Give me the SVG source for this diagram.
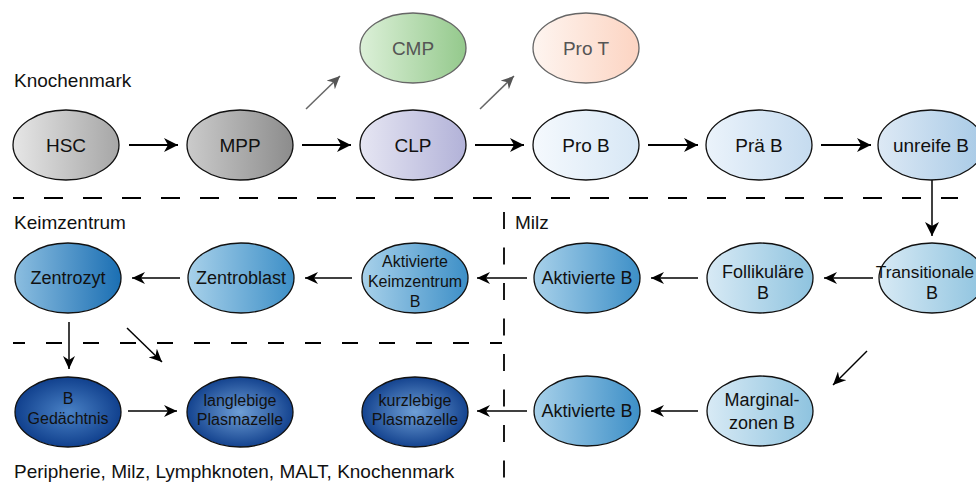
<svg xmlns="http://www.w3.org/2000/svg" width="976" height="483" viewBox="0 0 976 483">
<style>
  .lbl{font-family:"Liberation Sans",Arial,sans-serif;font-size:19px;fill:#111}
  .t{font-family:"Liberation Sans",Arial,sans-serif;text-anchor:middle;fill:#111}
  .t19{font-size:19px}
  .t18{font-size:18px}
  .t16{font-size:16px}
  .gt{fill:#555}
  .node{stroke:#111;stroke-width:1.3}
  .gnode{stroke:#666;stroke-width:1.3}
  .arr{stroke:#000;stroke-width:2;fill:none}
  .arr2{stroke:#000;stroke-width:1.5;fill:none}
  .garr{stroke:#666;stroke-width:1.5;fill:none}
  .dash{stroke:#000;stroke-width:1.8;fill:none}
</style>
<defs>
  <marker id="ah" markerUnits="userSpaceOnUse" markerWidth="15" markerHeight="14" refX="14" refY="7" orient="auto">
    <path d="M0,0 L14,7 L0,14 L4,7 z" fill="#000"/>
  </marker>
  <marker id="ahs" markerUnits="userSpaceOnUse" markerWidth="14" markerHeight="12" refX="13" refY="6" orient="auto">
    <path d="M0,0 L13,6 L0,12 L4,6 z" fill="#000"/>
  </marker>
  <marker id="gah" markerUnits="userSpaceOnUse" markerWidth="14" markerHeight="12" refX="13" refY="6" orient="auto">
    <path d="M0,0 L13,6 L0,12 L4,6 z" fill="#555"/>
  </marker>
  <linearGradient id="gHSC"><stop offset="0" stop-color="#e6e6e6"/><stop offset="1" stop-color="#a6a6a6"/></linearGradient>
  <linearGradient id="gMPP"><stop offset="0" stop-color="#cbcbcb"/><stop offset="1" stop-color="#8c8c8c"/></linearGradient>
  <linearGradient id="gCLP"><stop offset="0" stop-color="#e6e6f3"/><stop offset="1" stop-color="#b2b2d8"/></linearGradient>
  <linearGradient id="gCMP"><stop offset="0" stop-color="#dcf0d8"/><stop offset="1" stop-color="#94c98c"/></linearGradient>
  <linearGradient id="gProT"><stop offset="0" stop-color="#fef5f0"/><stop offset="1" stop-color="#fcd4c2"/></linearGradient>
  <linearGradient id="gProB"><stop offset="0" stop-color="#f5f9fd"/><stop offset="1" stop-color="#d7e7f5"/></linearGradient>
  <linearGradient id="gPraB"><stop offset="0" stop-color="#ebf3fb"/><stop offset="1" stop-color="#c5dbef"/></linearGradient>
  <linearGradient id="gUnr"><stop offset="0" stop-color="#dde9f5"/><stop offset="1" stop-color="#a8cae6"/></linearGradient>
  <linearGradient id="gLight"><stop offset="0" stop-color="#d8eaf5"/><stop offset="1" stop-color="#8ec3df"/></linearGradient>
  <linearGradient id="gMid"><stop offset="0" stop-color="#a8d1ea"/><stop offset="1" stop-color="#3d8fc7"/></linearGradient>
  <linearGradient id="gZz"><stop offset="0" stop-color="#8cbee0"/><stop offset="1" stop-color="#1b6fb3"/></linearGradient>
  <radialGradient id="gDark" cx="0.5" cy="0.5" r="0.55"><stop offset="0" stop-color="#6f9fd6"/><stop offset="1" stop-color="#0b3a88"/></radialGradient>
  <radialGradient id="gGed" cx="0.5" cy="0.5" r="0.55"><stop offset="0" stop-color="#4a82c6"/><stop offset="1" stop-color="#0b3a88"/></radialGradient>
</defs>

<g id="labels">
  <text class="lbl" x="14" y="87">Knochenmark</text>
  <text class="lbl" x="14" y="229">Keimzentrum</text>
  <text class="lbl" x="515" y="229">Milz</text>
  <text class="lbl" x="14" y="478">Peripherie, Milz, Lymphknoten, MALT, Knochenmark</text>
</g>

<g id="dividers">
  <line class="dash" x1="13" y1="198" x2="958" y2="198" stroke-dasharray="19 20" stroke-dashoffset="8"/>
  <line class="dash" x1="13" y1="343" x2="502" y2="343" stroke-dasharray="16 21" stroke-dashoffset="4"/>
  <line class="dash" x1="504" y1="212" x2="504" y2="483" stroke-dasharray="17 18.5"/>
</g>

<g id="connectors">
  <line class="arr" x1="129" y1="145" x2="178" y2="145" marker-end="url(#ah)"/>
  <line class="arr" x1="302" y1="145" x2="351" y2="145" marker-end="url(#ah)"/>
  <line class="arr" x1="475" y1="145" x2="524" y2="145" marker-end="url(#ah)"/>
  <line class="arr" x1="648" y1="145" x2="698" y2="145" marker-end="url(#ah)"/>
  <line class="arr" x1="821" y1="145" x2="871" y2="145" marker-end="url(#ah)"/>
  <line class="garr" x1="306" y1="109" x2="340" y2="76" marker-end="url(#gah)"/>
  <line class="garr" x1="480" y1="109" x2="514" y2="76" marker-end="url(#gah)"/>
  <line class="arr2" x1="932" y1="180" x2="932" y2="236" marker-end="url(#ah)"/>
  <line class="arr2" x1="873" y1="278" x2="824" y2="278" marker-end="url(#ahs)"/>
  <line class="arr2" x1="698" y1="278" x2="651" y2="278" marker-end="url(#ahs)"/>
  <line class="arr2" x1="527" y1="278" x2="477" y2="278" marker-end="url(#ahs)"/>
  <line class="arr2" x1="352" y1="278" x2="305" y2="278" marker-end="url(#ahs)"/>
  <line class="arr2" x1="180" y1="278" x2="132" y2="278" marker-end="url(#ahs)"/>
  <line class="arr2" x1="69" y1="322" x2="69" y2="369" marker-end="url(#ahs)"/>
  <line class="arr2" x1="127" y1="328" x2="162" y2="362" marker-end="url(#ahs)"/>
  <line class="arr2" x1="867" y1="351" x2="833" y2="385" marker-end="url(#ahs)"/>
  <line class="arr2" x1="128" y1="411" x2="177" y2="411" marker-end="url(#ahs)"/>
  <line class="arr2" x1="698" y1="411" x2="651" y2="411" marker-end="url(#ahs)"/>
  <line class="arr2" x1="527" y1="411" x2="477" y2="411" marker-end="url(#ahs)"/>
</g>

<g id="HSC"><ellipse class="node" cx="66" cy="145" rx="53" ry="35" fill="url(#gHSC)"/><text class="t t19" x="66" y="152">HSC</text></g>
<g id="MPP"><ellipse class="node" cx="240" cy="145" rx="53" ry="35" fill="url(#gMPP)"/><text class="t t19" x="240" y="152">MPP</text></g>
<g id="CLP"><ellipse class="node" cx="413" cy="145" rx="53" ry="35" fill="url(#gCLP)"/><text class="t t19" x="413" y="152">CLP</text></g>
<g id="CMP"><ellipse class="gnode" cx="413" cy="48" rx="53" ry="35" fill="url(#gCMP)"/><text class="t t19 gt" x="413" y="55">CMP</text></g>
<g id="ProT"><ellipse class="gnode" cx="586" cy="48" rx="53" ry="35" fill="url(#gProT)"/><text class="t t19 gt" x="586" y="55">Pro T</text></g>
<g id="ProB"><ellipse class="node" cx="586" cy="145" rx="53" ry="35" fill="url(#gProB)"/><text class="t t19" x="586" y="152">Pro B</text></g>
<g id="PraeB"><ellipse class="node" cx="759" cy="145" rx="53" ry="35" fill="url(#gPraB)"/><text class="t t19" x="759" y="152">Prä B</text></g>
<g id="unreifeB"><ellipse class="node" cx="931" cy="145" rx="53" ry="35" fill="url(#gUnr)"/><text class="t t19" x="931" y="152">unreife B</text></g>

<g id="TransitionaleB"><ellipse class="node" cx="932" cy="278" rx="53" ry="35" fill="url(#gLight)"/><text class="t" style="font-size:17.3px" x="925" y="278">Transitionale</text><text class="t t18" x="932" y="299">B</text></g>
<g id="FollikulaereB"><ellipse class="node" cx="760" cy="278" rx="53" ry="35" fill="url(#gLight)"/><text class="t t18" x="763" y="278">Follikuläre</text><text class="t t18" x="763" y="299">B</text></g>
<g id="AktivierteB1"><ellipse class="node" cx="587" cy="278" rx="53" ry="35" fill="url(#gMid)"/><text class="t t18" x="587" y="284">Aktivierte B</text></g>
<g id="AktivierteKZB"><ellipse class="node" cx="415" cy="278" rx="53" ry="35" fill="url(#gMid)"/><text class="t t16" x="415" y="267">Aktivierte</text><text class="t t16" x="415" y="287">Keimzentrum</text><text class="t t16" x="415" y="307">B</text></g>
<g id="Zentroblast"><ellipse class="node" cx="241" cy="278" rx="53" ry="35" fill="url(#gMid)"/><text class="t t18" x="241" y="284">Zentroblast</text></g>
<g id="Zentrozyt"><ellipse class="node" cx="68" cy="278" rx="53" ry="35" fill="url(#gZz)"/><text class="t t18" x="68" y="284">Zentrozyt</text></g>

<g id="BGedaechtnis"><ellipse class="node" cx="68" cy="412" rx="53" ry="35" fill="url(#gGed)"/><text class="t t16" x="68" y="404">B</text><text class="t t16" x="68" y="424">Gedächtnis</text></g>
<g id="langlebige"><ellipse class="node" cx="240" cy="412" rx="53" ry="35" fill="url(#gDark)"/><text class="t t16" x="240" y="406">langlebige</text><text class="t t16" x="240" y="425">Plasmazelle</text></g>
<g id="kurzlebige"><ellipse class="node" cx="415" cy="412" rx="53" ry="35" fill="url(#gDark)"/><text class="t t16" x="415" y="406">kurzlebige</text><text class="t t16" x="415" y="425">Plasmazelle</text></g>
<g id="AktivierteB2"><ellipse class="node" cx="587" cy="411" rx="53" ry="35" fill="url(#gMid)"/><text class="t t18" x="587" y="417">Aktivierte B</text></g>
<g id="MarginalzonenB"><ellipse class="node" cx="760" cy="411" rx="53" ry="35" fill="url(#gLight)"/><text class="t t18" x="762" y="406">Marginal-</text><text class="t t18" x="762" y="429">zonen B</text></g>
</svg>
